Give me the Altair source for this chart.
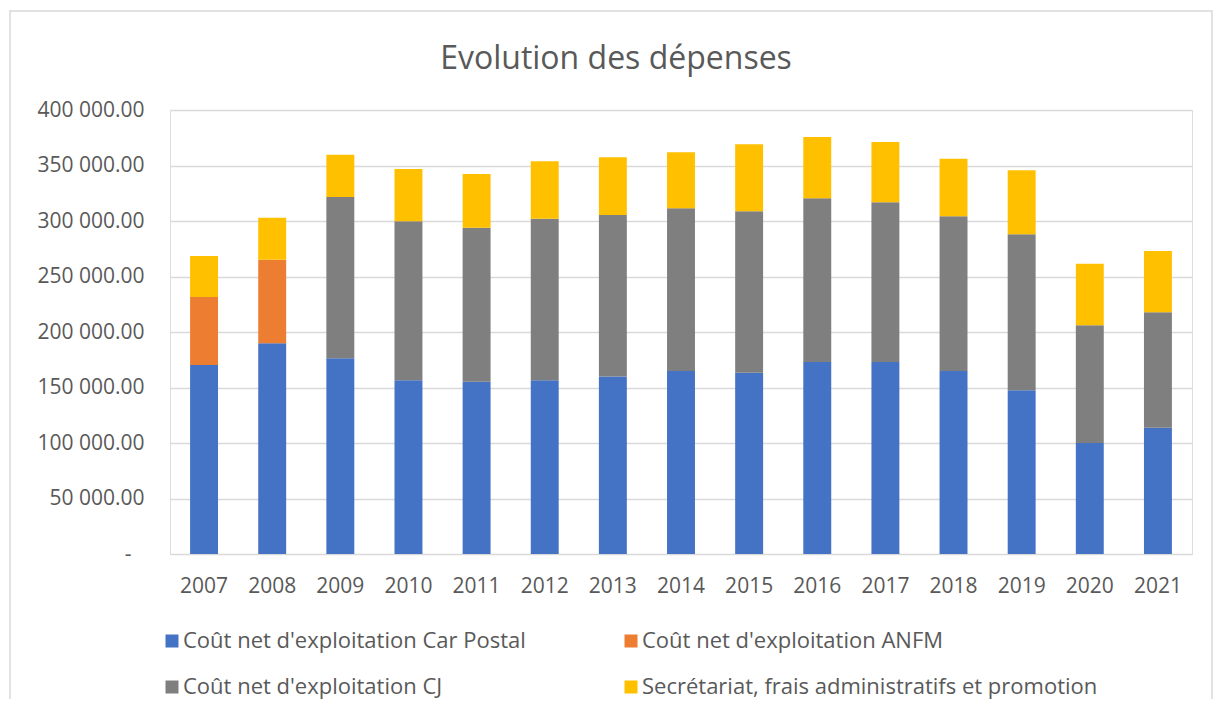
import altair as alt
import pandas as pd

years = ["2007", "2008", "2009", "2010", "2011", "2012", "2013", "2014",
         "2015", "2016", "2017", "2018", "2019", "2020", "2021"]
series = [
    "Coût net d'exploitation Car Postal",
    "Coût net d'exploitation ANFM",
    "Coût net d'exploitation CJ",
    "Secrétariat, frais administratifs et promotion",
]
car_postal = [170300, 189800, 176300, 156500, 155200, 156500, 160000, 164900,
              163400, 173000, 173000, 164900, 147500, 100000, 113800]
anfm = [61200, 75400, 0, 0, 0, 0, 0, 0, 0, 0, 0, 0, 0, 0, 0]
cj = [0, 0, 145300, 143200, 138800, 145500, 145400, 146500,
      145300, 147400, 143800, 139300, 140500, 106000, 103900]
secretariat = [37000, 37800, 38100, 47100, 48300, 51800, 52000, 50500,
               60400, 55300, 54400, 51900, 57700, 55500, 55300]
colors = ["#4472C4", "#ED7D31", "#7F7F7F", "#FFC000"]

rows = []
for si, (name, vals) in enumerate(zip(series, [car_postal, anfm, cj, secretariat])):
    for y, v in zip(years, vals):
        if v:
            rows.append({"Année": y, "Série": name, "Montant": v, "ordre": si})
df = pd.DataFrame(rows)

# legend is filled column by column: order so that rows read like the original
legend_order = [series[0], series[2], series[1], series[3]]
legend_colors = [colors[0], colors[2], colors[1], colors[3]]

FONT = "Open Sans"
TXT = "#595959"

bars = alt.Chart(df).mark_bar().encode(
    x=alt.X("Année:N", sort=years, title=None,
            scale=alt.Scale(paddingInner=0.59, paddingOuter=0.295),
            axis=alt.Axis(labelAngle=0, ticks=False, domain=False, grid=False,
                          labelFont=FONT, labelFontSize=21, labelColor=TXT,
                          labelPadding=21)),
    y=alt.Y("sum(Montant):Q", title=None, stack="zero",
            scale=alt.Scale(domain=[0, 400000], nice=False),
            axis=alt.Axis(values=list(range(0, 400001, 50000)), ticks=False,
                          domain=False, grid=True, gridColor="#D9D9D9",
                          gridWidth=1.5, labelFont=FONT, labelFontSize=21,
                          labelColor=TXT,
                          labelPadding={"condition": {"test": "datum.value == 0", "value": 39},
                                        "value": 26},
                          labelExpr="datum.value == 0 ? '-' : replace(format(datum.value, ',.2f'), ',', ' ')")),
    color=alt.Color("Série:N", sort=legend_order,
                    scale=alt.Scale(domain=legend_order, range=legend_colors),
                    legend=alt.Legend(title=None, orient="none", legendX=-9,
                                      legendY=520, columns=2, columnPadding=94,
                                      rowPadding=24, symbolType="square",
                                      symbolSize=169, symbolStrokeWidth=0,
                                      labelFont=FONT, labelFontSize=22,
                                      labelColor=TXT, labelOffset=0,
                                      labelLimit=0)),
    order=alt.Order("ordre:Q", sort="ascending"),
)

frame = alt.Chart(alt.Data(values=[{}])).mark_rect(
    fill="transparent", stroke="#D9D9D9", strokeWidth=1.5
).encode(x=alt.value(-160), x2=alt.value(1042), y=alt.value(-99), y2=alt.value(700))

chart = alt.layer(frame, bars).properties(
    width=1022,
    height=444,
    autosize=alt.AutoSizeParams(type="none"),
    padding={"left": 162, "top": 102, "right": 21, "bottom": 145},
    title=alt.TitleParams("Evolution des dépenses", font=FONT, fontSize=32,
                          fontWeight="normal", color=TXT, anchor="middle",
                          dx=-65, offset=-91, baseline="alphabetic"),
).configure_view(stroke="transparent", strokeWidth=0).configure(background="white")

chart.save("out.html", embed_options={"renderer": "svg", "actions": False})
